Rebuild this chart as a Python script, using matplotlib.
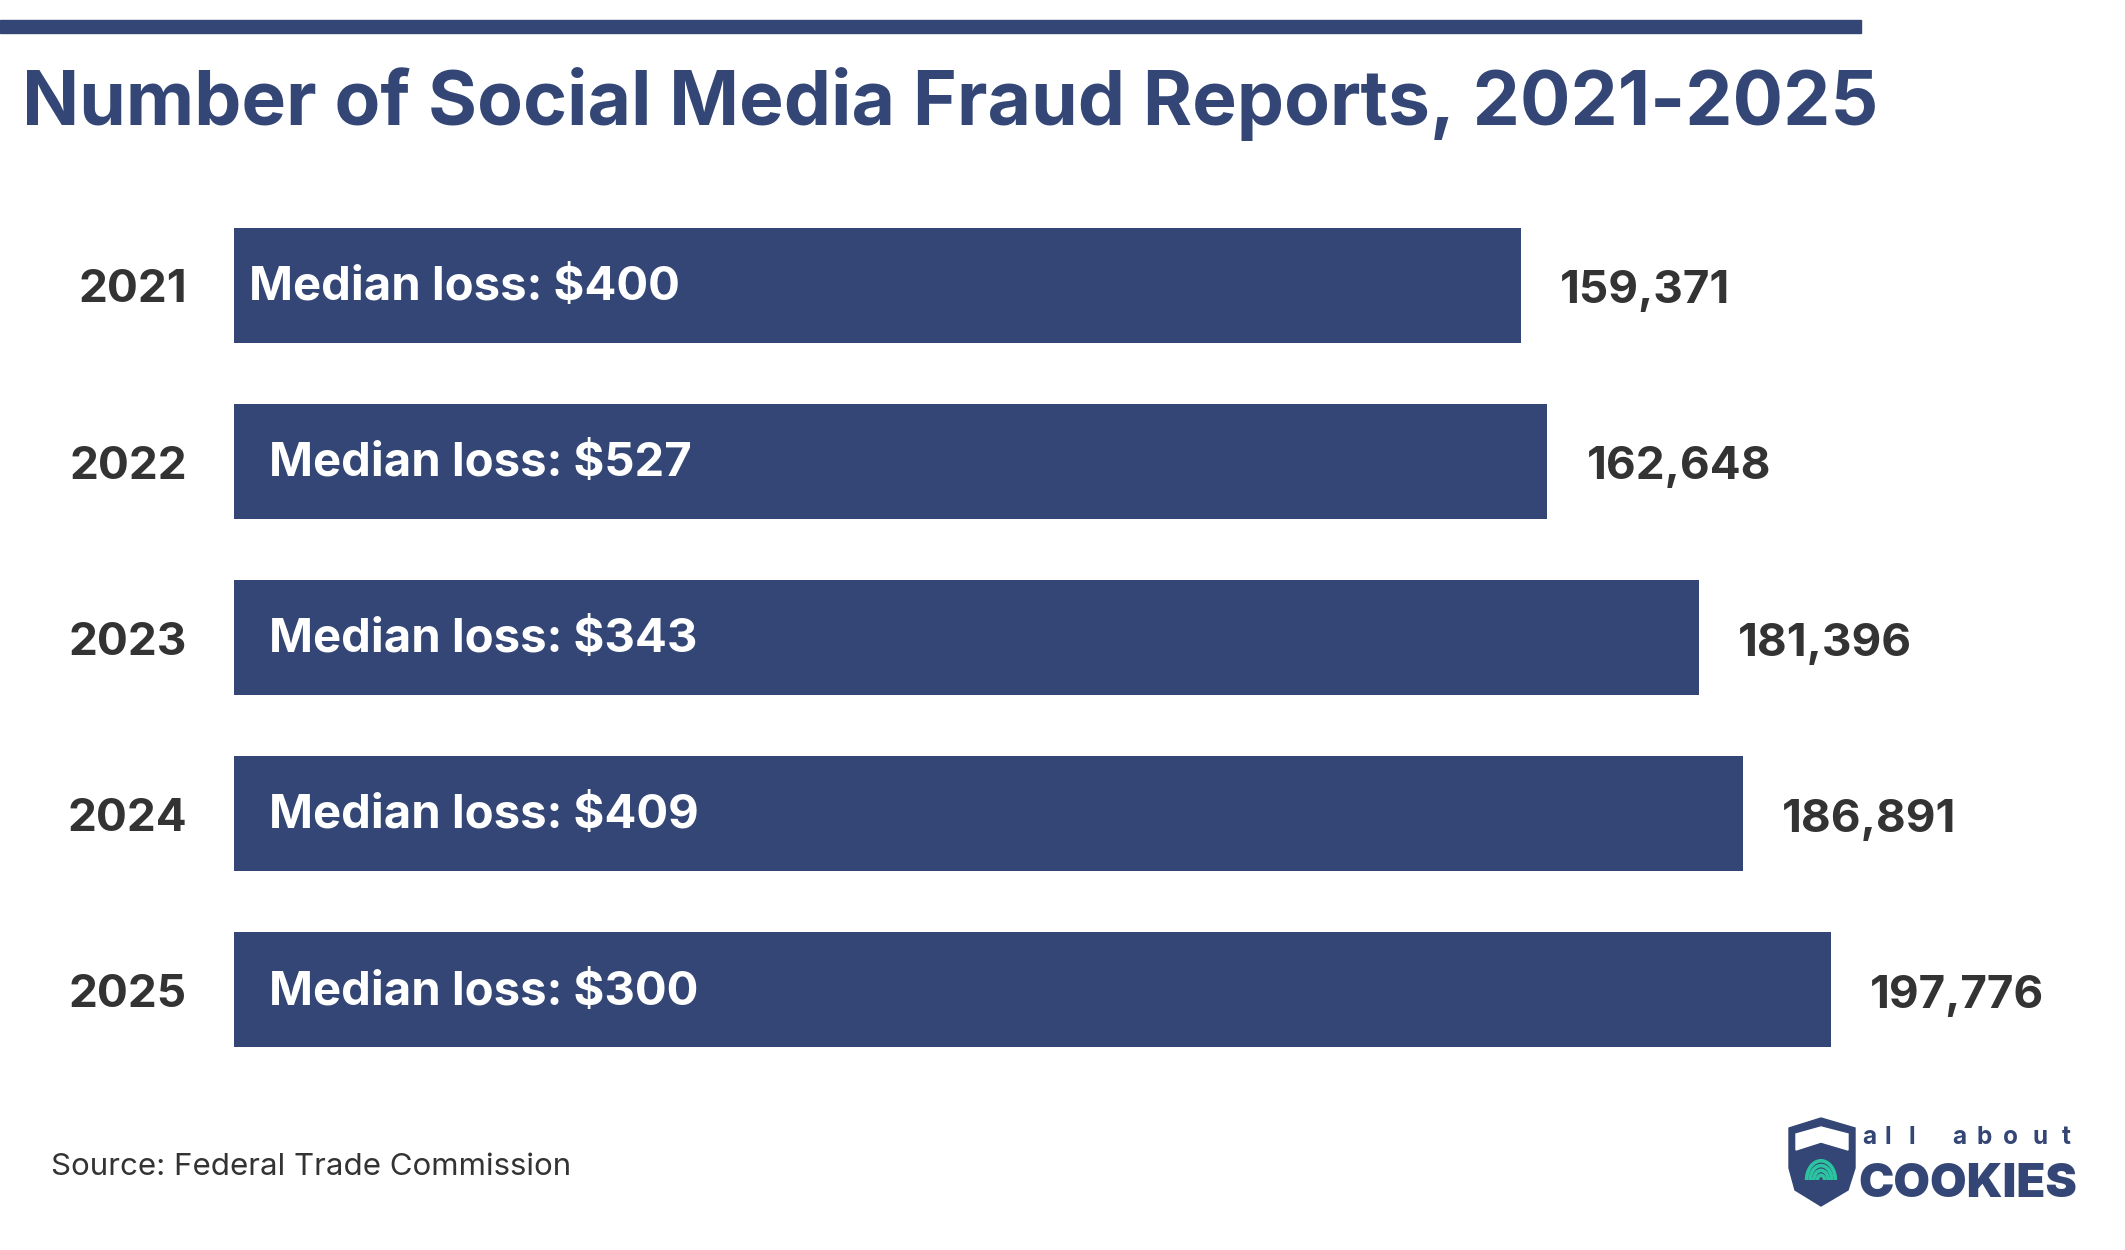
import matplotlib.pyplot as plt
from matplotlib.patches import Rectangle, Polygon, Arc

years = ["2021", "2022", "2023", "2024", "2025"]
reports = [159371, 162648, 181396, 186891, 197776]
median_loss = [400, 527, 343, 409, 300]

NAVY = "#334675"
DARK = "#333333"
TEAL = "#2cc4a0"
W, H = 2125, 1250

plt.rcParams["font.family"] = ["Inter", "DejaVu Sans"]

fig = plt.figure(figsize=(W / 100, H / 100), dpi=100)
fig.patch.set_facecolor("white")


def fx(px):
    return px / W


def fy(py):
    return 1 - py / H


# top rule
fig.patches.append(Rectangle((0, fy(33)), fx(1861), 13 / H, transform=fig.transFigure,
                             color=NAVY, zorder=0))

fig.text(fx(22), fy(125), "Number of Social Media Fraud Reports, 2021-2025",
         fontsize=54, fontweight="bold", color=NAVY, va="baseline", ha="left")

# bars
ax = fig.add_axes([fx(234), fy(1078), fx(1831 - 234), 881 / H])
ypos = list(range(len(years)))
ax.barh(ypos, reports, height=0.652, color=NAVY)
ax.set_xlim(0, max(reports))
ax.set_ylim(len(years) - 0.5, -0.5)
ax.axis("off")

m = max(reports)
for i, (yr, val, loss) in enumerate(zip(years, reports, median_loss)):
    ax.text(-0.0295 * m, i + 0.03, yr, ha="right", va="center",
            fontsize=33, fontweight="bold", color=DARK, clip_on=False)
    inset = 0.0095 if i == 0 else 0.022
    ax.text(inset * m, i + 0.015, f"Median loss: ${loss}", ha="left", va="center",
            fontsize=34, fontweight="bold", color="white")
    ax.text(val + 0.0245 * m, i + 0.035, f"{val:,}", ha="left", va="center",
            fontsize=33, fontweight="bold", color=DARK, clip_on=False)

fig.text(fx(51), fy(1167), "Source: Federal Trade Commission", fontsize=22.5,
         color=DARK, ha="left", va="center")

# logo
lax = fig.add_axes([0, 0, 1, 1], facecolor="none")
lax.set_xlim(0, W)
lax.set_ylim(H, 0)
lax.axis("off")
shield = [(1789, 1128), (1821, 1118), (1855, 1128), (1855, 1168),
          (1848, 1190), (1821, 1206), (1795, 1190), (1789, 1168)]
lax.add_patch(Polygon(shield, closed=True, color=NAVY))
lax.add_patch(Polygon([(1796, 1134), (1821, 1127), (1848, 1134), (1848, 1150),
                       (1821, 1142), (1796, 1150)], closed=True, color="white"))
for r in [6, 12, 18, 24]:
    lax.add_patch(Arc((1821, 1180), r * 1.2, r * 1.6, theta1=180, theta2=360,
                      color=TEAL, lw=2.6))
for ch, cx in zip("allabout", [1869, 1888, 1912, 1959, 1984, 2010, 2040, 2066]):
    lax.text(cx, 1144, ch, fontsize=17.5, fontweight="bold", color=NAVY,
             ha="center", va="baseline")
lax.text(1858, 1197, "COOKIES", fontsize=34, fontweight="black",
         color=NAVY, ha="left", va="baseline")

fig.savefig("out.png", dpi=100, facecolor="white")
